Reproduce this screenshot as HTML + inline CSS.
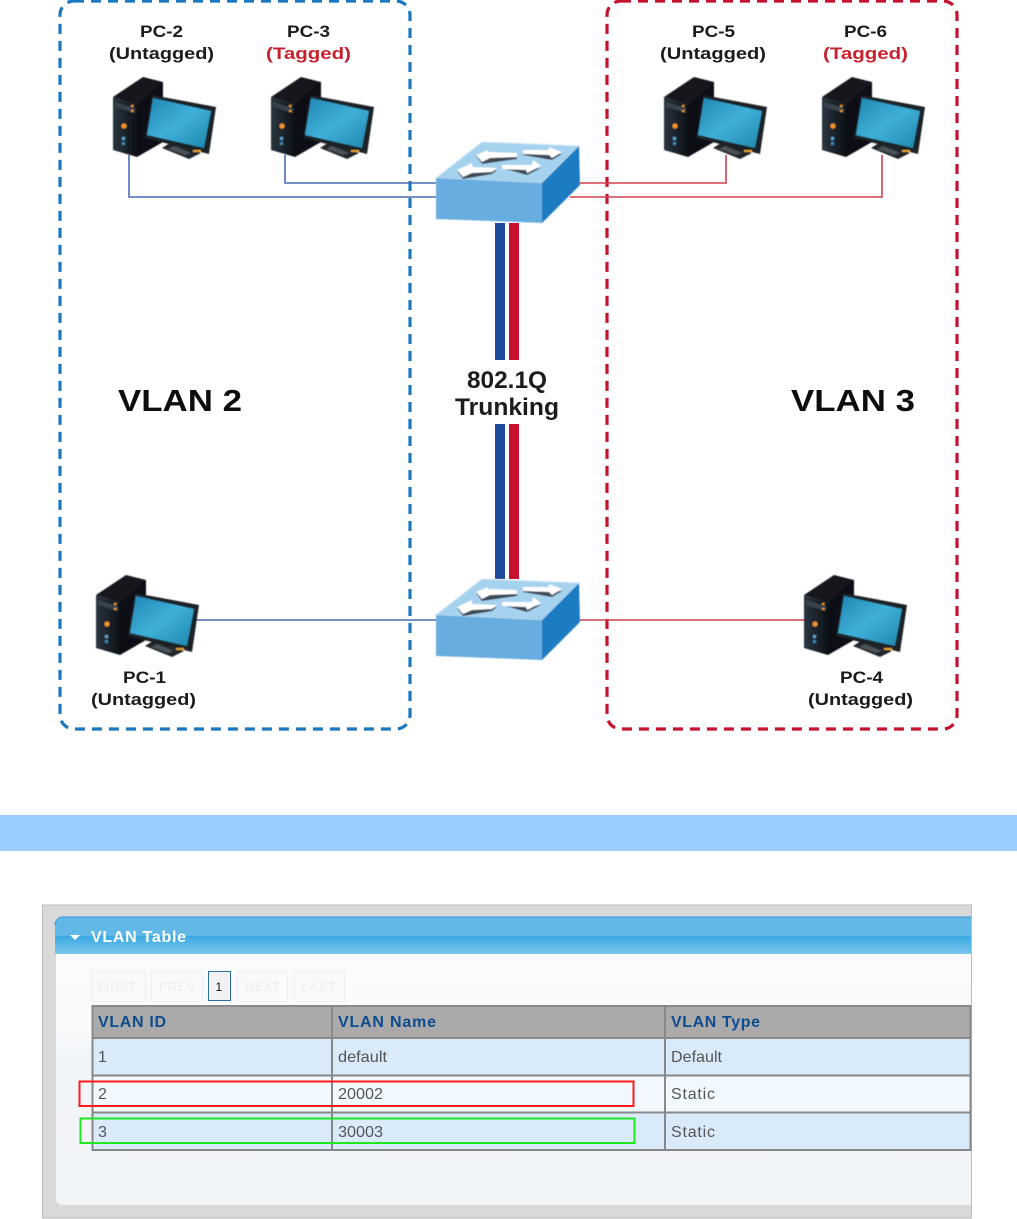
<!DOCTYPE html>
<html><head><meta charset="utf-8"><style>
html,body{margin:0;padding:0;background:#fff;width:1017px;height:1219px;overflow:hidden}
svg{display:block}
.l{font-family:"Liberation Sans",sans-serif;font-weight:bold;font-size:16.5px;fill:#1a1a1a}
.r{fill:#c8202f}
.v{font-family:"Liberation Sans",sans-serif;font-weight:bold;font-size:31px;fill:#111}
.t{font-family:"Liberation Sans",sans-serif;font-weight:bold;font-size:24px;fill:#1a1a1a}
.c{font-family:"Liberation Sans",sans-serif;font-size:16px;fill:#555}
.h{font-family:"Liberation Sans",sans-serif;font-weight:bold;font-size:16px;fill:#0f4c8f}
.p{font-family:"Liberation Sans",sans-serif;font-size:12px;fill:#ececec}
</style></head><body>
<svg width="1017" height="1219" viewBox="0 0 1017 1219" xmlns="http://www.w3.org/2000/svg">
<defs>
<linearGradient id="scr" x1="0" y1="0" x2="1" y2="1"><stop offset="0" stop-color="#1f86b4"/><stop offset=".5" stop-color="#3fb0d8"/><stop offset="1" stop-color="#1d86ad"/></linearGradient>
<linearGradient id="tw" x1="0" y1="0" x2="1" y2="0"><stop offset="0" stop-color="#2a3640"/><stop offset="1" stop-color="#0c1116"/></linearGradient>
<linearGradient id="bar" x1="0" y1="0" x2="0" y2="1"><stop offset="0" stop-color="#62b9e8"/><stop offset=".5" stop-color="#62b9e8"/><stop offset=".52" stop-color="#3aaae2"/><stop offset="1" stop-color="#7cc6ec"/></linearGradient>
<linearGradient id="body" x1="0" y1="0" x2="0" y2="1"><stop offset="0" stop-color="#fafbfd"/><stop offset=".3" stop-color="#f9fafc"/><stop offset=".4" stop-color="#f2f5f8"/><stop offset="1" stop-color="#f1f4f7"/></linearGradient>
<filter id="b" x="-5%" y="-5%" width="110%" height="110%"><feGaussianBlur stdDeviation=".45"/></filter>
<filter id="tb" x="-5%" y="-20%" width="110%" height="140%"><feGaussianBlur stdDeviation=".35"/></filter>
<g id="pc" filter="url(#b)">
<polygon points="0,20 30,0 50,5 50,40 24,28" fill="#12181e"/>
<polygon points="24,28 50,5 50,65 24,80" fill="#0b0f13"/>
<polygon points="0,20 24,28 24,80 0,73" fill="url(#tw)"/>
<polygon points="2,25 22,31 22,36 2,30" fill="#37434d"/>
<circle cx="11" cy="49" r="2.600" fill="#f0922a"/>
<rect x="18" y="28" width="2.500" height="2" fill="#e8952c"/><rect x="18" y="33" width="2.500" height="2" fill="#e8952c"/>
<rect x="9" y="60" width="3" height="3" fill="#5aa6d0"/><rect x="9" y="65" width="3" height="3" fill="#3b86b0"/>
<polygon points="49,71 60,64 88,76 76,82" fill="#20262b"/>
<polygon points="55,72 61,69 78,76 72,78" fill="#4a5258"/>
<polygon points="39,18 103,30 96,77 32,61" fill="#1a2127"/>
<polygon points="40,21 98,34 91,71 34,58" fill="url(#scr)"/>
<rect x="80" y="73" width="8" height="2" fill="#e0a030"/>
</g>
<g id="sw" filter="url(#b)">
<polygon points="436,178 482,142 579,146 542,183" fill="#a5d2ee" stroke="#cfe6f5" stroke-width="1"/>
<polygon points="436,178 542,183 542,223 436,219" fill="#67ade0"/>
<polygon points="542,183 579,146 580,185 542,223" fill="#1d7bc2"/>
<g fill="#3c4a55">
<polygon points="476,156 482,164 517,159 517,155 490,157"/>
<polygon points="523,155 552,160 562,154 524,152"/>
<polygon points="457,171 463,179 492,174 497,170 472,173"/>
<polygon points="502,168 527,175 541,168 527,170"/>
</g>
<polygon points="476,155 488,150 488,152 517,153 517,157 490,158 482,162" fill="#fff"/>
<polygon points="523,150 549,150 549,147 562,152 552,158 549,155 523,154" fill="#fff"/>
<polygon points="457,170 472,163 472,167 497,168 492,172 472,173 463,177" fill="#fff"/>
<polygon points="502,165 532,165 533,160 541,166 527,173 526,170 502,169" fill="#fff"/>
</g>
</defs>
<rect width="1017" height="1219" fill="#fff"/>

<rect x="60" y="1" width="350" height="728" rx="14" fill="none" stroke="#1b78c0" stroke-width="3.200" stroke-dasharray="10 7"/>
<rect x="607" y="1" width="350" height="728" rx="14" fill="none" stroke="#c4122f" stroke-width="3.200" stroke-dasharray="10 7"/>

<g fill="none" stroke-width="1.600">
<polyline points="129,155 129,197 436,197" stroke="#4a6cb4"/>
<polyline points="285,155 285,183 436,183" stroke="#4a6cb4"/>
<polyline points="580,183 726,183 726,155" stroke="#d0404f"/>
<polyline points="570,197 882,197 882,155" stroke="#d0404f"/>
<line x1="195" y1="620" x2="436" y2="620" stroke="#4a6cb4"/>
<line x1="580" y1="620" x2="805" y2="620" stroke="#d0404f"/>
</g>

<rect x="495" y="223" width="10" height="137" fill="#1e4a9c"/>
<rect x="509" y="223" width="10" height="137" fill="#c8102e"/>
<rect x="495" y="424" width="10" height="155" fill="#1e4a9c"/>
<rect x="509" y="424" width="10" height="155" fill="#c8102e"/>

<use href="#sw"/>
<use href="#sw" y="437"/>

<use href="#pc" x="113" y="77"/>
<use href="#pc" x="271" y="77"/>
<use href="#pc" x="664" y="77"/>
<use href="#pc" x="822" y="77"/>
<use href="#pc" x="96" y="575"/>
<use href="#pc" x="804" y="575"/>

<g filter="url(#tb)">
<text class="l" x="140" y="37" textLength="43" lengthAdjust="spacingAndGlyphs">PC-2</text>
<text class="l" x="109" y="59" textLength="105" lengthAdjust="spacingAndGlyphs">(Untagged)</text>
<text class="l" x="287" y="37" textLength="43" lengthAdjust="spacingAndGlyphs">PC-3</text>
<text class="l r" x="266" y="59" textLength="85" lengthAdjust="spacingAndGlyphs">(Tagged)</text>
<text class="l" x="692" y="37" textLength="43" lengthAdjust="spacingAndGlyphs">PC-5</text>
<text class="l" x="660" y="59" textLength="106" lengthAdjust="spacingAndGlyphs">(Untagged)</text>
<text class="l" x="844" y="37" textLength="43" lengthAdjust="spacingAndGlyphs">PC-6</text>
<text class="l r" x="823" y="59" textLength="85" lengthAdjust="spacingAndGlyphs">(Tagged)</text>
<text class="l" x="123" y="683" textLength="43" lengthAdjust="spacingAndGlyphs">PC-1</text>
<text class="l" x="91" y="705" textLength="105" lengthAdjust="spacingAndGlyphs">(Untagged)</text>
<text class="l" x="840" y="683" textLength="43" lengthAdjust="spacingAndGlyphs">PC-4</text>
<text class="l" x="808" y="705" textLength="105" lengthAdjust="spacingAndGlyphs">(Untagged)</text>

<text class="v" x="118" y="411" textLength="124" lengthAdjust="spacingAndGlyphs">VLAN 2</text>
<text class="v" x="791" y="411" textLength="124" lengthAdjust="spacingAndGlyphs">VLAN 3</text>
<text class="t" x="467" y="388" textLength="80" lengthAdjust="spacingAndGlyphs">802.1Q</text>
<text class="t" x="455" y="415" textLength="104" lengthAdjust="spacingAndGlyphs">Trunking</text>
</g>

<rect x="0" y="815" width="1017" height="36" fill="#99ccff"/>

<rect x="42.500" y="905" width="929" height="313" fill="#d9d9d9" stroke="#bdbdbd" stroke-width="1"/>
<path d="M56 954H971V1205H62a6 6 0 0 1-6-6Z" fill="url(#body)"/>
<path d="M55 954V925a8 8 0 0 1 8-8H971V954Z" fill="url(#bar)"/>
<path d="M55 925a8 8 0 0 1 8-8H971" fill="none" stroke="#3a94dc" stroke-width="1"/>
<polygon points="70,935 80,935 75,940" fill="#fff"/>
<text x="91" y="942" font-family="Liberation Sans,sans-serif" font-weight="bold" font-size="16" fill="#fff" textLength="95">VLAN Table</text>

<g fill="#f9fafc" stroke="#eeeff1" stroke-width="1">
<rect x="91.500" y="971.500" width="54" height="30"/>
<rect x="151.500" y="971.500" width="51" height="30"/>
<rect x="237.500" y="971.500" width="50" height="30"/>
<rect x="294.500" y="971.500" width="50" height="30"/>
</g>
<rect x="208.500" y="971.500" width="22" height="29" fill="#f1f2f4" stroke="#2f6aa5" stroke-width="1"/>
<text class="p" x="98" y="991" textLength="38">FIRST</text>
<text class="p" x="159" y="991" textLength="36">PREV</text>
<text class="p" x="245" y="991" textLength="35">NEXT</text>
<text class="p" x="301" y="991" textLength="35">LAST</text>
<text x="215.500" y="991" font-family="Liberation Sans,sans-serif" font-size="12" fill="#111">1</text>

<rect x="92" y="1005" width="879" height="33" fill="#aaaaaa"/>
<rect x="92" y="1038" width="879" height="37" fill="#d9eafa"/>
<rect x="92" y="1075" width="879" height="37" fill="#f2f9fe"/>
<rect x="92" y="1112" width="879" height="38" fill="#d9eafa"/>
<g fill="#888888">
<rect x="92" y="1005" width="879" height="2"/>
<rect x="92" y="1037" width="879" height="2"/>
<rect x="92" y="1074.500" width="879" height="2"/>
<rect x="92" y="1111.500" width="879" height="2"/>
<rect x="92" y="1149" width="879" height="2"/>
<rect x="91.500" y="1005" width="2" height="146"/>
<rect x="331" y="1005" width="2" height="146"/>
<rect x="664" y="1005" width="2" height="146"/>
<rect x="969.500" y="1005" width="2" height="146"/>
</g>

<text class="h" x="98" y="1027" textLength="68">VLAN ID</text>
<text class="h" x="338" y="1027" textLength="98">VLAN Name</text>
<text class="h" x="671" y="1027" textLength="89">VLAN Type</text>
<text class="c" x="98" y="1062">1</text>
<text class="c" x="338" y="1062" textLength="49" lengthAdjust="spacingAndGlyphs">default</text>
<text class="c" x="671" y="1062" textLength="51" lengthAdjust="spacingAndGlyphs">Default</text>
<text class="c" x="98" y="1099">2</text>
<text class="c" x="338" y="1099" textLength="45" lengthAdjust="spacingAndGlyphs">20002</text>
<text class="c" x="671" y="1099" textLength="44">Static</text>
<text class="c" x="98" y="1137">3</text>
<text class="c" x="338" y="1137" textLength="45" lengthAdjust="spacingAndGlyphs">30003</text>
<text class="c" x="671" y="1137" textLength="44">Static</text>

<rect x="79.500" y="1081.500" width="554" height="24.500" fill="none" stroke="#ff1a1a" stroke-width="2"/>
<rect x="80.500" y="1118.500" width="554" height="24.500" fill="none" stroke="#1ee81e" stroke-width="2"/>
</svg>
</body></html>
